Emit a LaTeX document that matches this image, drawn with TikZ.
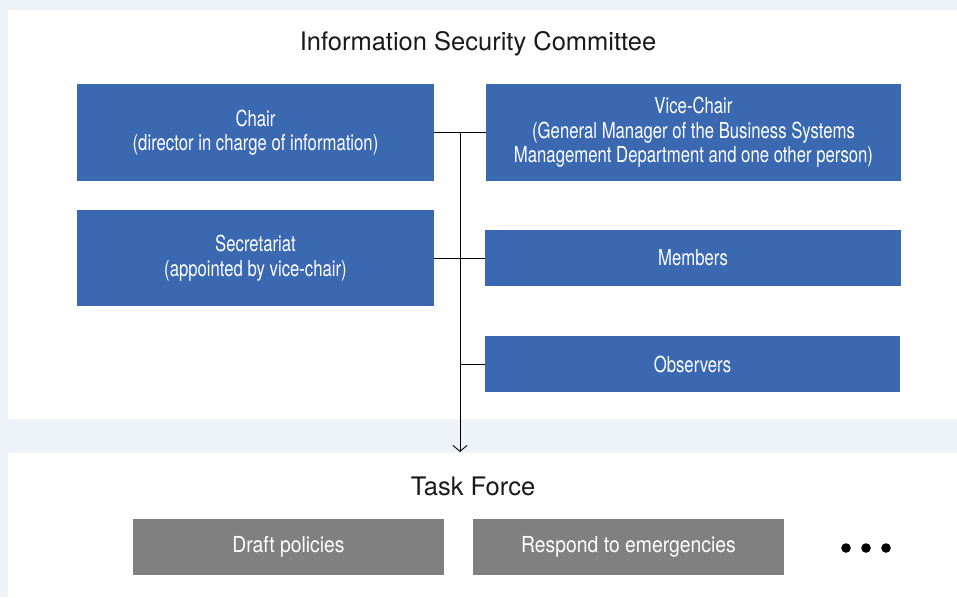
\documentclass[tikz,border=0pt]{standalone}
\usepackage{fontspec}
\setmainfont{TeX Gyre Heros}
\newfontfamily\condfont[FakeStretch=0.76]{TeX Gyre Heros}
\newfontfamily\taskfont[FakeStretch=0.88]{TeX Gyre Heros}
\usetikzlibrary{arrows.meta}
\definecolor{bgcol}{HTML}{EEF2F9}
\definecolor{boxblue}{HTML}{3A69B1}
\definecolor{boxgray}{HTML}{808080}
\begin{document}
\begin{tikzpicture}[x=1pt,y=-1pt,>={Straight Barb[length=6pt,width=14pt]},
  rolebox/.style={fill=boxblue,text=white,inner sep=0pt,align=center,
    font=\condfont\fontsize{22}{24}\selectfont},
  taskbox/.style={fill=boxgray,text=white,inner sep=0pt,align=center,
    font=\taskfont\fontsize{22}{24}\selectfont},
  heading/.style={font=\fontsize{25.5}{28}\selectfont,text=black!90}]
% background and panels
\fill[bgcol] (0,0) rectangle (957,597);
\useasboundingbox (0,0) rectangle (957,597);
\fill[white] (8,10) rectangle (957,419);
\fill[white] (8,453) rectangle (957,597);
% committee
\node[heading] (committee) at (478,44) {Information Security Committee};
\node[rolebox,minimum width=357pt,minimum height=97pt] (chair) at (255.5,132.5)
  {Chair\\(director in charge of information)};
\node[rolebox,minimum width=415pt,minimum height=97pt] (vice) at (693.5,132.5)
  {Vice-Chair\\[1pt](General Manager of the Business Systems\\Management Department and one other person)};
\node[rolebox,minimum width=357pt,minimum height=96pt] (secretariat) at (255.5,258)
  {Secretariat\\[1pt](appointed by vice-chair)};
\node[rolebox,minimum width=416pt,minimum height=56pt] (members) at (693,258) {Members};
\node[rolebox,minimum width=415pt,minimum height=56pt] (observers) at (692.5,364) {Observers};
% connectors
\coordinate (top) at (460,132.5);
\coordinate (taskin) at (460,452);
\coordinate (obsjoin) at (460,364);
\draw[line width=0.9pt] (chair.east)--(vice.west);
\draw[line width=0.9pt] (secretariat.east)--(members.west);
\draw[line width=0.9pt] (obsjoin)--(observers.west);
\draw[->,line width=0.9pt] (top)--(taskin);
% task force
\node[heading] (taskforce) at (473,486) {Task Force};
\node[taskbox,minimum width=311pt,minimum height=56pt] (draft) at (288.5,547) {Draft policies};
\node[taskbox,minimum width=311pt,minimum height=56pt] (respond) at (628.5,547) {Respond to emergencies};
\foreach \x in {846,866,886}
  \fill[black] (\x,548) circle (4.8pt);
\end{tikzpicture}
\end{document}
